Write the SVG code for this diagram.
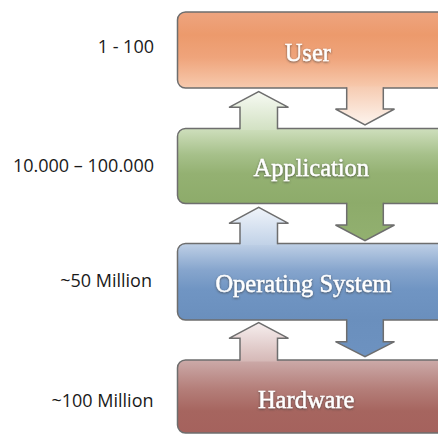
<svg xmlns="http://www.w3.org/2000/svg" width="438" height="435" viewBox="0 0 438 435">
  <defs>
    <style>
      .box { stroke: #6e6e6e; stroke-width: 1.5; }
      .edge { fill: none; stroke: #6e6e6e; stroke-width: 1.5; stroke-linejoin: miter; }
      .lbl { font-family: "Liberation Serif", "Times New Roman", serif; font-size: 24.5px; fill: #ffffff; stroke: #ffffff; stroke-width: 0.4; text-anchor: middle; filter: url(#glow); }
      .cnt { font-family: "Open Sans", "Liberation Sans", sans-serif; font-size: 18px; fill: #1a1a1a; text-anchor: end; }
    </style>
    <filter id="glow" x="-20%" y="-40%" width="140%" height="180%">
      <feGaussianBlur in="SourceAlpha" stdDeviation="0.9" result="b"/>
      <feOffset in="b" dx="0" dy="0.7" result="o"/>
      <feFlood flood-color="#3a3a3a" flood-opacity="0.75"/>
      <feComposite in2="o" operator="in" result="s"/>
      <feMerge>
        <feMergeNode in="s"/>
        <feMergeNode in="SourceGraphic"/>
      </feMerge>
    </filter>
    <linearGradient id="gUser" x1="0" y1="0" x2="0" y2="1">
      <stop offset="0" stop-color="#eea47f"/>
      <stop offset="0.3" stop-color="#ec9a6c"/>
      <stop offset="0.6" stop-color="#efa47b"/>
      <stop offset="1" stop-color="#f7caae"/>
    </linearGradient>
    <linearGradient id="gApp" x1="0" y1="0" x2="0" y2="1">
      <stop offset="0" stop-color="#cfdfbd"/>
      <stop offset="0.35" stop-color="#a6c08a"/>
      <stop offset="0.6" stop-color="#94b172"/>
      <stop offset="1" stop-color="#8dab6a"/>
    </linearGradient>
    <linearGradient id="gOS" x1="0" y1="0" x2="0" y2="1">
      <stop offset="0" stop-color="#bfd0e6"/>
      <stop offset="0.35" stop-color="#86a5cd"/>
      <stop offset="0.6" stop-color="#7095c3"/>
      <stop offset="1" stop-color="#6a8fbd"/>
    </linearGradient>
    <linearGradient id="gHW" x1="0" y1="0" x2="0" y2="1">
      <stop offset="0" stop-color="#ccaaa9"/>
      <stop offset="0.4" stop-color="#b47e79"/>
      <stop offset="0.7" stop-color="#a6655f"/>
      <stop offset="1" stop-color="#a5625d"/>
    </linearGradient>
    <linearGradient id="gD1" x1="0" y1="0" x2="0" y2="1">
      <stop offset="0" stop-color="#f6cbb1"/>
      <stop offset="1" stop-color="#fdf4ee"/>
    </linearGradient>
    <linearGradient id="gD2" x1="0" y1="0" x2="0" y2="1">
      <stop offset="0" stop-color="#8dab6a"/>
      <stop offset="1" stop-color="#92b070"/>
    </linearGradient>
    <linearGradient id="gD3" x1="0" y1="0" x2="0" y2="1">
      <stop offset="0" stop-color="#6a8fbd"/>
      <stop offset="1" stop-color="#6d92c0"/>
    </linearGradient>
    <linearGradient id="gU1" x1="0" y1="0" x2="0" y2="1">
      <stop offset="0" stop-color="#f7faf3"/>
      <stop offset="1" stop-color="#d2e1c3"/>
    </linearGradient>
    <linearGradient id="gU2" x1="0" y1="0" x2="0" y2="1">
      <stop offset="0" stop-color="#f0f4fa"/>
      <stop offset="1" stop-color="#c1d2e7"/>
    </linearGradient>
    <linearGradient id="gU3" x1="0" y1="0" x2="0" y2="1">
      <stop offset="0" stop-color="#f6eeee"/>
      <stop offset="1" stop-color="#d5b8b6"/>
    </linearGradient>
  </defs>

  <rect x="0" y="0" width="438" height="435" fill="#ffffff"/>

  <g id="node-user">
    <rect class="box" x="177.5" y="12" width="290" height="76" rx="8" fill="url(#gUser)"/>
    <text class="lbl" x="307.8" y="61">User</text>
  </g>
  <g id="node-application">
    <rect class="box" x="177.5" y="128.5" width="290" height="75" rx="8" fill="url(#gApp)"/>
    <text class="lbl" x="311.3" y="176">Application</text>
  </g>
  <g id="node-os">
    <rect class="box" x="177.5" y="243.5" width="290" height="76.5" rx="8" fill="url(#gOS)"/>
    <text class="lbl" x="303.5" y="291.7">Operating System</text>
  </g>
  <g id="node-hardware">
    <rect class="box" x="177.5" y="360" width="290" height="73" rx="8" fill="url(#gHW)"/>
    <text class="lbl" x="306.2" y="408.3">Hardware</text>
  </g>

  <g id="connectors">
    <path d="M346.7 86.5 L383.3 86.5 L383.3 109 L394.5 109 L365 125 L335.5 109 L346.7 109 Z" fill="url(#gD1)"/>
    <path class="edge" d="M346.7 87.25 L346.7 109 L335.5 109 L365 125 L394.5 109 L383.3 109 L383.3 87.25"/>
    <path d="M240 130 L240 107.3 L229 107.3 L258.7 91.7 L288.5 107.3 L277.5 107.3 L277.5 130 Z" fill="url(#gU1)"/>
    <path class="edge" d="M240 129.25 L240 107.3 L229 107.3 L258.7 91.7 L288.5 107.3 L277.5 107.3 L277.5 129.25"/>
    <path d="M346.7 202 L383.3 202 L383.3 225 L394.5 225 L365 240.7 L335.5 225 L346.7 225 Z" fill="url(#gD2)"/>
    <path class="edge" d="M346.7 202.75 L346.7 225 L335.5 225 L365 240.7 L394.5 225 L383.3 225 L383.3 202.75"/>
    <path d="M240 245 L240 223.3 L229 223.3 L258.7 207.3 L288.5 223.3 L277.5 223.3 L277.5 245 Z" fill="url(#gU2)"/>
    <path class="edge" d="M240 244.25 L240 223.3 L229 223.3 L258.7 207.3 L288.5 223.3 L277.5 223.3 L277.5 244.25"/>
    <path d="M346.7 318.5 L383.3 318.5 L383.3 341.7 L394.5 341.7 L365 356.7 L335.5 341.7 L346.7 341.7 Z" fill="url(#gD3)"/>
    <path class="edge" d="M346.7 319.25 L346.7 341.7 L335.5 341.7 L365 356.7 L394.5 341.7 L383.3 341.7 L383.3 319.25"/>
    <path d="M240 361.5 L240 338.3 L229 338.3 L258.7 322.7 L288.5 338.3 L277.5 338.3 L277.5 361.5 Z" fill="url(#gU3)"/>
    <path class="edge" d="M240 360.75 L240 338.3 L229 338.3 L258.7 322.7 L288.5 338.3 L277.5 338.3 L277.5 360.75"/>
  </g>

  <g id="counts">
    <text class="cnt" x="154" y="53.3">1 - 100</text>
    <text class="cnt" x="154" y="171.7">10.000 – 100.000</text>
    <text class="cnt" x="152" y="286.7">~50 Million</text>
    <text class="cnt" x="153.5" y="406.7">~100 Million</text>
  </g>
</svg>
